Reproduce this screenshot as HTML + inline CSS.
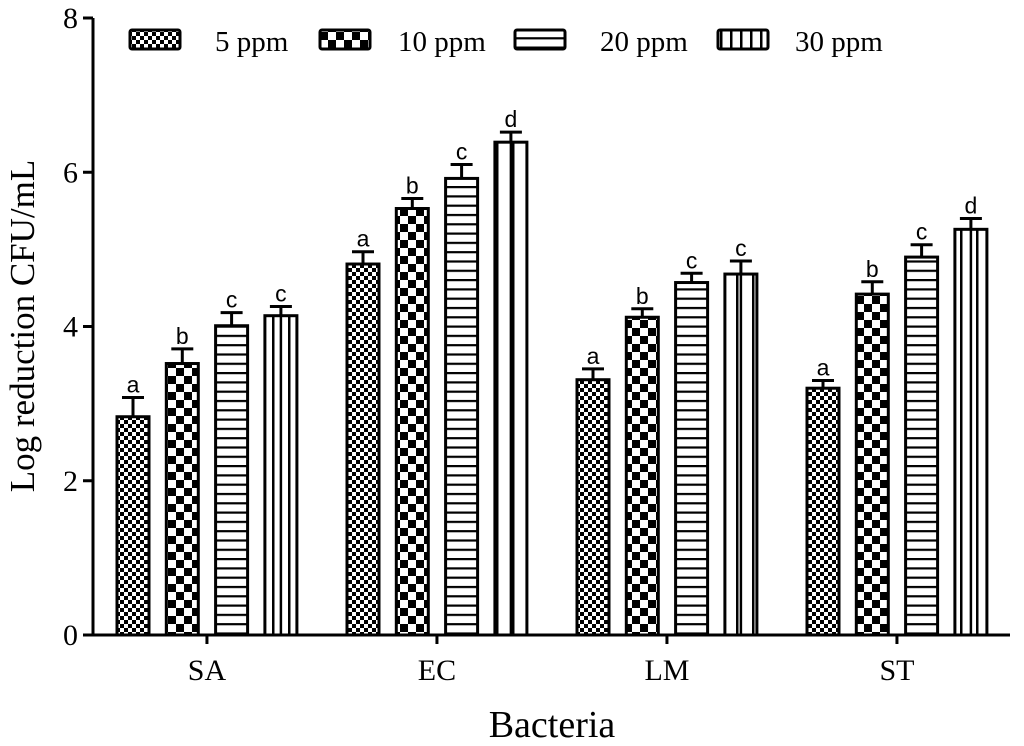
<!DOCTYPE html>
<html><head><meta charset="utf-8"><style>body{margin:0;background:#fff}svg{display:block}</style></head>
<body>
<svg id="chart" width="1024" height="746" xmlns="http://www.w3.org/2000/svg" font-family="Liberation Serif, serif">
<defs>
<pattern id="p5" patternUnits="userSpaceOnUse" width="8" height="8"><rect width="8" height="8" fill="#fff"/><rect width="4" height="4" fill="#000"/><rect x="4" y="4" width="4" height="4" fill="#000"/></pattern>
<pattern id="p10" patternUnits="userSpaceOnUse" width="16" height="16"><rect width="16" height="16" fill="#fff"/><rect width="8" height="8" fill="#000"/><rect x="8" y="8" width="8" height="8" fill="#000"/></pattern>
<pattern id="p20" patternUnits="userSpaceOnUse" width="10" height="9.3"><rect width="10" height="9.3" fill="#fff"/><rect y="0" width="10" height="2.2" fill="#000"/></pattern>
<pattern id="p30" patternUnits="userSpaceOnUse" width="16" height="10"><rect width="16" height="10" fill="#fff"/><rect x="0" width="2.5" height="10" fill="#000"/></pattern>
<pattern id="p30l" patternUnits="userSpaceOnUse" width="10" height="10"><rect width="10" height="10" fill="#fff"/><rect x="0" width="2.5" height="10" fill="#000"/></pattern>
</defs>
<g id="plot"></g>
</svg>
<script>
const categories = ["SA","EC","LM","ST"];
const seriesNames = ["5 ppm","10 ppm","20 ppm","30 ppm"];
const values5 = [2.83,4.81,3.31,3.20];
const values10 = [3.52,5.53,4.12,4.42];
const values20 = [4.01,5.92,4.57,4.90];
const values30 = [4.14,6.39,4.68,5.26];
const errors5 = [0.25,0.16,0.14,0.10];
const errors10 = [0.19,0.13,0.11,0.16];
const errors20 = [0.17,0.18,0.12,0.16];
const errors30 = [0.12,0.13,0.17,0.14];
const letters5 = ["a","a","a","a"];
const letters10 = ["b","b","b","b"];
const letters20 = ["c","c","c","c"];
const letters30 = ["c","d","c","d"];
const yTicks = [0,2,4,6,8];

const NS="http://www.w3.org/2000/svg";
const g=document.getElementById('plot');
const y0=635, yTop=18, yMax=8;
const y=v=>y0-(v/yMax)*(y0-yTop);
const groupX=i=>117+i*230;
const barX=(i,s)=>groupX(i)+s*49.3;
const bw=32;
function el(t,a,txt){const e=document.createElementNS(NS,t);for(const k in a)e.setAttribute(k,a[k]);if(txt!=null)e.textContent=txt;g.appendChild(e);return e;}

const vals=[values5,values10,values20,values30];
const errs=[errors5,errors10,errors20,errors30];
const lets=[letters5,letters10,letters20,letters30];
const pats=["p5","p10","p20","p30"];

let a=el('line',{x1:93,y1:y0,x2:1010,y2:y0,stroke:'#000','stroke-width':3});

a=el('line',{x1:93,y1:y(8),x2:93,y2:y0+1.5,stroke:'#000','stroke-width':3});

yTicks.forEach(t=>{
  el('line',{x1:83,y1:y(t),x2:93,y2:y(t),stroke:'#000','stroke-width':3});
  const tx=el('text',{x:78,y:y(t)+10,'text-anchor':'end','font-size':30},t);
  
});
categories.forEach((c,i)=>{
  const cx=groupX(i)+(3*49.3+bw)/2;
  el('line',{x1:cx,y1:y0,x2:cx,y2:y0+9,stroke:'#000','stroke-width':3});
  const tx=el('text',{x:cx,y:y0+45,'text-anchor':'middle','font-size':30},c);
  
  for(let s=0;s<4;s++){
    const v=vals[s][i],x=barX(i,s);
    const r=el('rect',{x:x,y:y(v),width:bw,height:y0-y(v),fill:'url(#'+pats[s]+')',stroke:'#000','stroke-width':3});
    
    if(s===3) el('line',{x1:x+bw/2,y1:y(v),x2:x+bw/2,y2:y0,stroke:'#000','stroke-width':2.5});
    const ey=y(v+errs[s][i]);
    const e=el('path',{d:`M${x+bw/2},${y(v)}V${ey}M${x+bw/2-11},${ey}H${x+bw/2+11}`,stroke:'#000','stroke-width':3,fill:'none'});
    
    const l=el('text',{x:x+bw/2,y:ey-5,'text-anchor':'middle','font-size':23,'font-family':'Liberation Sans, sans-serif'},lets[s][i]);
    
  }
});
let t=el('text',{x:0,y:0,'text-anchor':'middle','font-size':35,transform:'translate(34,326) rotate(-90)'},'Log reduction CFU/mL');

t=el('text',{x:552,y:737,'text-anchor':'middle','font-size':38},'Bacteria');

const legX=[130,320,515,718], legT=[215,398,600,795];
const legP=["p5","p10","p20","p30l"];
seriesNames.forEach((n,s)=>{
  const r=el('rect',{x:legX[s],y:30,width:50,height:19,fill:'url(#'+legP[s]+')',stroke:'#000','stroke-width':3,rx:2});
  
  const tx=el('text',{x:legT[s],y:51,'font-size':29},n);
  
});
</script>
</body></html>
